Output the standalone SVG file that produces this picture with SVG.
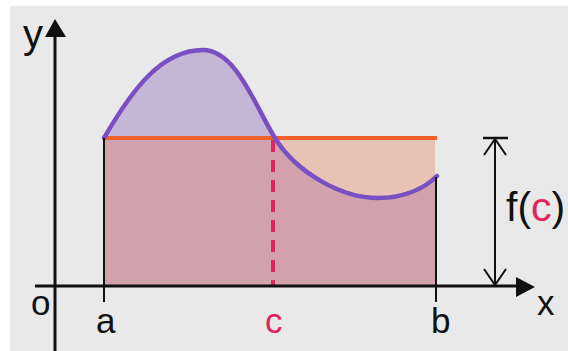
<svg xmlns="http://www.w3.org/2000/svg" width="568" height="351" viewBox="0 0 568 351">
<style>
.lbl{font-family:"Liberation Sans",Arial,sans-serif;fill:#111}
.pink{fill:#e0245e}
.ax{stroke:#111;stroke-width:3;fill:none}
.thin{stroke:#111;stroke-width:2;fill:none}
</style>
<defs>
<clipPath id="above"><rect x="0" y="0" width="568" height="138"/></clipPath>
<path id="area" d="M104,138 C133,88 162,50 203,50 C236,50 255,106 275,138 C295,171 340,198 378,198 C405,198 425,188 437,176 L437,286 L104,286 Z"/>
</defs>
<rect x="0" y="0" width="568" height="351" fill="#ffffff"/>
<rect x="10" y="6" width="558" height="345" fill="#e9e9e9"/>
<g id="region">
<rect x="104" y="138" width="331" height="148" fill="#e8c2b4"/>
<use href="#area" fill="#d1a2ab"/>
<use href="#area" fill="#c6b6d6" clip-path="url(#above)"/>
</g>
<g id="mean-line">
<line x1="104" y1="138" x2="437" y2="138" stroke="#f0602a" stroke-width="4"/>
</g>
<g id="c-line">
<line x1="273" y1="140" x2="273" y2="286" stroke="#e0245e" stroke-width="4" stroke-dasharray="12,8"/>
</g>
<g id="curve">
<path d="M104,138 C133,88 162,50 203,50 C236,50 255,106 275,138 C295,171 340,198 378,198 C405,198 425,188 437,176" fill="none" stroke="#7b4fc4" stroke-width="4.5" stroke-linecap="round"/>
</g>
<g id="connectors">
<line class="thin" x1="104" y1="138" x2="104" y2="302"/>
<line class="thin" x1="436" y1="177" x2="436" y2="302"/>
<line class="ax" x1="55" y1="34" x2="55" y2="351"/>
<polygon points="55,19 45,37 66,37" fill="#111"/>
<line class="ax" x1="35" y1="286" x2="520" y2="286"/>
<polygon points="535,287 516,277 516,297" fill="#111"/>
<line class="thin" x1="495" y1="139" x2="495" y2="285"/>
<line x1="483" y1="138" x2="508" y2="138" stroke="#111" stroke-width="2.5"/>
<polyline class="thin" points="484,155 495,139 506,155"/>
<polyline class="thin" points="484,269 495,285 506,269"/>
</g>
<g id="labels">
<text class="lbl" x="23" y="48" font-size="40">y</text>
<text class="lbl" x="31" y="315" font-size="35">o</text>
<text class="lbl" x="96" y="333" font-size="35">a</text>
<text class="lbl pink" x="265" y="333" font-size="35">c</text>
<text class="lbl" x="431" y="333" font-size="35">b</text>
<text class="lbl" x="537" y="315" font-size="35">x</text>
<text class="lbl" x="506" y="221" font-size="41">f(<tspan class="pink">c</tspan>)</text>
</g>
</svg>
